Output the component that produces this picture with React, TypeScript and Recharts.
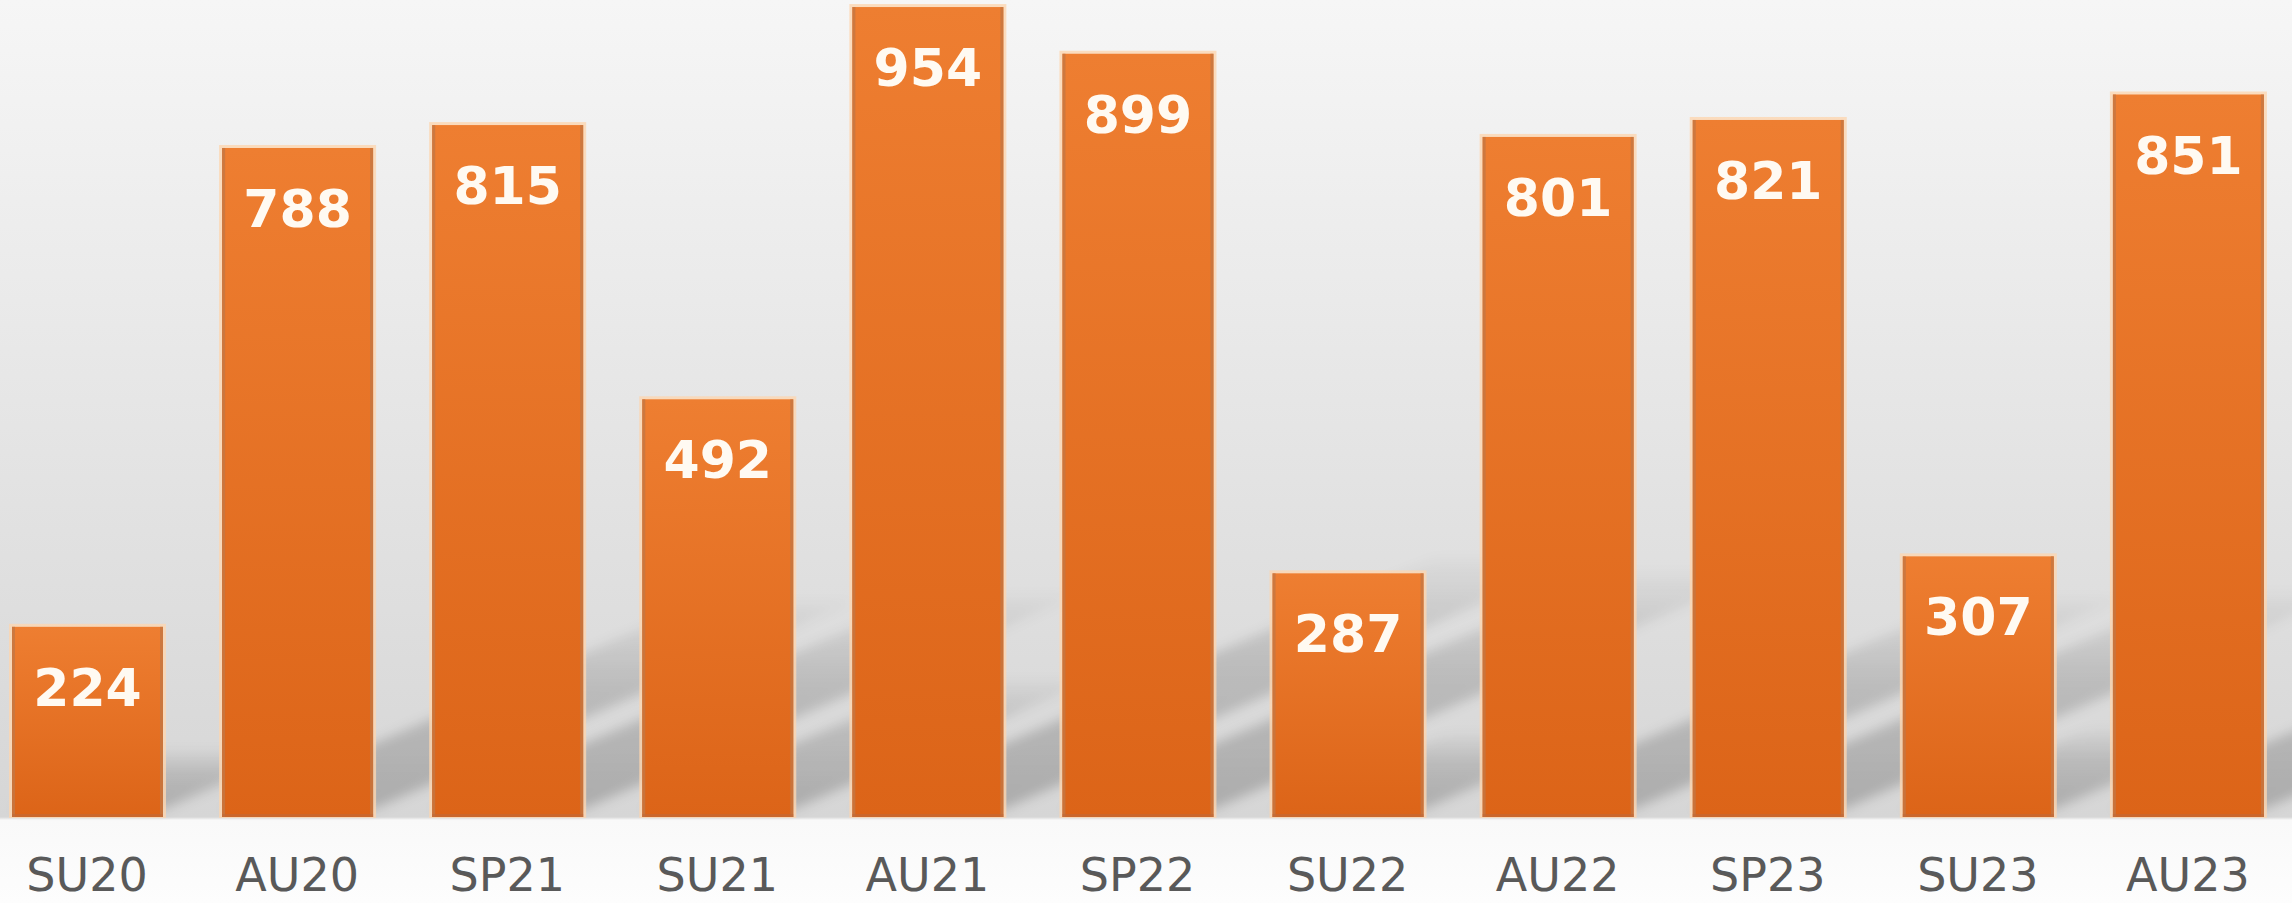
import { Bar, BarChart, LabelList, XAxis, YAxis } from "recharts";

const terms = ["SU20", "AU20", "SP21", "SU21", "AU21", "SP22", "SU22", "AU22", "SP23", "SU23", "AU23"];
const counts = [224, 788, 815, 492, 954, 899, 287, 801, 821, 307, 851];

const data = terms.map((term, i) => ({ term, count: counts[i] }));

const FONT = "'DejaVu Sans', Verdana, sans-serif";

// perspective shadow: each bar is sheared up and to the right
function OrangeBar(props: any) {
  const { x, y, width, height } = props;
  if (!height || height <= 0) return null;
  const b = y + height;
  const off = 8;
  const kx = height * 0.72;
  const ky = height * 0.31;
  const shadow = `${x},${b - off} ${x + width},${b - off} ${x + width + kx},${b - off - ky} ${x + kx},${b - off - ky}`;
  return (
    <g>
      <polygon points={shadow} fill="url(#shadowFade)" filter="url(#shadowBlur)" />
      <rect x={x - 3} y={y - 3} width={width + 6} height={height + 4} fill="#fdd6b0" opacity={0.8} />
      <rect x={x} y={y} width={width} height={height} fill="url(#barFill)" />
      <rect x={x} y={y} width={3} height={height} fill="#c47744" opacity={0.8} />
      <rect x={x + width - 3} y={y} width={3} height={height} fill="#c47744" opacity={0.8} />
      <rect x={x} y={b - 3} width={width} height={3} fill="#c0693a" opacity={0.6} />
    </g>
  );
}

function ValueLabel(props: any) {
  const { x, y, width, value } = props;
  return (
    <text
      x={x + width / 2}
      y={y + 79}
      textAnchor="middle"
      fill="#fffaf2"
      fontFamily={FONT}
      fontWeight="bold"
      fontSize={52}
    >
      {value}
    </text>
  );
}

function TermTick(props: any) {
  const { x, y, payload } = props;
  return (
    <text x={x} y={y + 74} textAnchor="middle" fill="#595959" fontFamily={FONT} fontSize={46}>
      {payload.value}
    </text>
  );
}

export default function App() {
  return (
    <div
      style={{
        position: "fixed",
        left: 0,
        top: 0,
        width: 2292,
        height: 903,
        overflow: "hidden",
        background:
          "linear-gradient(to bottom, #f6f6f6 0px, #e6e6e6 400px, #d6d6d6 817px, #f9f9f9 820px, #fdfdfd 903px)",
      }}
    >
      <div style={{ position: "absolute", left: -18, top: -32 }}>
        <BarChart width={2311} height={935} data={data} margin={{ top: 0, right: 0, bottom: 0, left: 0 }}>
          <defs>
            <linearGradient id="barFill" x1="0" y1="0" x2="0" y2="1">
              <stop offset="0%" stopColor="#ee7e31" />
              <stop offset="100%" stopColor="#dc6418" />
            </linearGradient>
            <linearGradient id="shadowFade" x1="0" y1="1" x2="0" y2="0">
              <stop offset="0%" stopColor="#000" stopOpacity={0.2} />
              <stop offset="60%" stopColor="#000" stopOpacity={0.14} />
              <stop offset="100%" stopColor="#000" stopOpacity={0.02} />
            </linearGradient>
            <filter id="shadowBlur" x="-50%" y="-50%" width="200%" height="200%">
              <feGaussianBlur stdDeviation={6} />
            </filter>
          </defs>
          <XAxis
            dataKey="term"
            height={86}
            axisLine={false}
            tickLine={false}
            tickSize={0}
            tickMargin={0}
            interval={0}
            tick={<TermTick />}
          />
          <YAxis hide domain={[0, 1000]} />
          <Bar dataKey="count" barSize={151} shape={<OrangeBar />} isAnimationActive={false}>
            <LabelList dataKey="count" content={<ValueLabel />} />
          </Bar>
        </BarChart>
      </div>
    </div>
  );
}
